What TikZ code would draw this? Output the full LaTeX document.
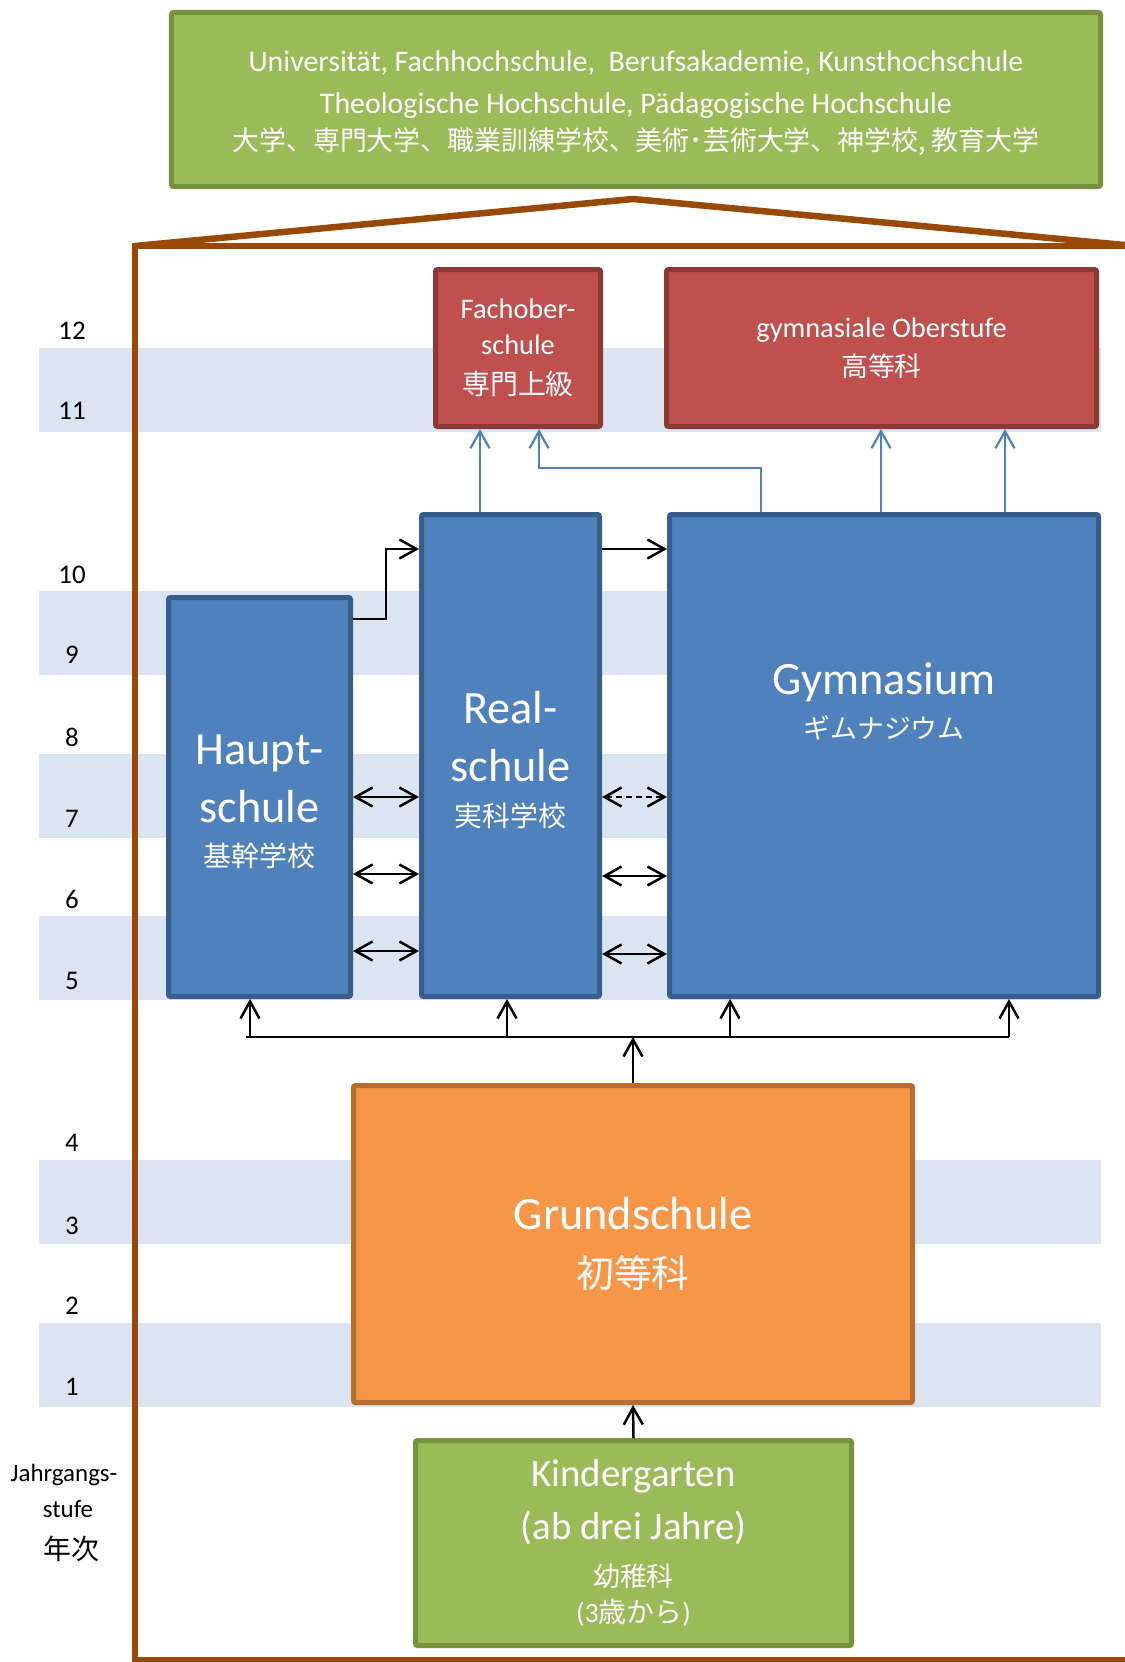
\documentclass[tikz,border=0pt]{standalone}
\usepackage{fontspec}
\setmainfont{Carlito}
\newfontfamily\cjk{Noto Sans CJK JP}
\usetikzlibrary{arrows.meta}
\definecolor{boxgreen}{HTML}{9BBB59}
\definecolor{greenline}{HTML}{76923C}
\definecolor{boxred}{HTML}{C0504D}
\definecolor{redline}{HTML}{8C3836}
\definecolor{boxblue}{HTML}{4F81BD}
\definecolor{blueline}{HTML}{385D8A}
\definecolor{boxorange}{HTML}{F79646}
\definecolor{orangeline}{HTML}{B66D31}
\definecolor{bandblue}{HTML}{DBE5F1}
\definecolor{framebrown}{HTML}{984807}
\begin{document}
\begin{tikzpicture}[x=1bp,y=-1bp]  %坐标按像素
\tikzset{school box/.style={draw=#1line,fill=box#1,line width=5bp,rounded corners=2bp,text=white,align=center,inner sep=0pt},
school text/.style={text=white,align=center,inner sep=0pt},
grade/.style={inner sep=0pt,font=\fontsize{27}{30}\selectfont},
barb/.tip={Straight Barb[length=17bp,width=19bp]},
arr/.style={-barb,line width=2.5bp},
darr/.style={barb-barb,line width=2.5bp},
barr/.style={-barb,line width=2.2bp,draw=boxblue},
frame/.style={draw=framebrown,line width=6.5bp}}
\useasboundingbox (0,0) rectangle (1124,1662);
\foreach \y in {348,591,754,916,1160,1323}
\fill[bandblue] (39,\y) rectangle (1101,\y+84);
\foreach \g/\y in {12/331,11/411,10/575,9/655,8/737,7/819,6/900,5/981,4/1143,3/1226,2/1306,1/1387}
\node[grade] (g\g) at (72,\y) {\g};
\node[align=center,inner sep=0pt,font=\fontsize{25}{36}\selectfont] (stufe) at (64,1513) {Jahrgangs-\\\hspace*{8bp}stufe\\[7bp]\hspace*{14bp}{\cjk\fontsize{28}{30}\selectfont 年次}};
\draw[frame] (1135,246) -- (135,246) -- (135,1660) -- (1135,1660);
\draw[frame] (135,246) -- (633,199) -- (1135,246);
\node[school box=green,minimum width=929bp,minimum height=174bp] (uni) at (636,99.5) {};
\node[school text,font=\fontsize{30}{42}\selectfont] (unitext) at (636,103)
{Universität, Fachhochschule,~~Berufsakademie, Kunsthochschule\\Theologische Hochschule, Pädagogische Hochschule\\[-5bp]{\cjk\fontsize{27}{30}\selectfont 大学、専門大学、職業訓練学校、美術･芸術大学、神学校, 教育大学}};
\node[school box=red,minimum width=165bp,minimum height=157bp,font=\fontsize{28.5}{36}\selectfont] (fos) at (518,348)
{Fachober-\\schule\\[4bp]{\cjk\fontsize{28}{30}\selectfont 専門上級}};
\node[school box=red,minimum width=430bp,minimum height=157bp,font=\fontsize{28.5}{39}\selectfont] (gos) at (881.5,348)
{gymnasiale Oberstufe\\{\cjk\fontsize{27}{30}\selectfont 高等科}};
\node[school box=blue,minimum width=182bp,minimum height=399bp] (haupt) at (259.5,797) {};
\node[school text,font=\fontsize{46.5}{58}\selectfont] (haupttext) at (259.5,802)
{Haupt-\\schule\\[-14bp]{\cjk\fontsize{28}{30}\selectfont 基幹学校}};
\node[school box=blue,minimum width=178bp,minimum height=482bp] (real) at (510.5,755.5) {};
\node[school text,font=\fontsize{46.5}{58}\selectfont] (realtext) at (510.5,760)
{Real-\\schule\\[-13bp]{\cjk\fontsize{28}{30}\selectfont 実科学校}};
\node[school box=blue,minimum width=429bp,minimum height=482bp] (gym) at (884,755.5) {};
\node[school text,font=\fontsize{46.5}{44}\selectfont] (gymtext) at (884,701)
{Gymnasium\\{\cjk\fontsize{27}{30}\selectfont ギムナジウム}};
\node[school box=orange,minimum width=559bp,minimum height=317bp,font=\fontsize{46.5}{58}\selectfont] (grund) at (633,1244)
{Grundschule\\{\cjk\fontsize{38}{40}\selectfont 初等科}};
\node[school box=green,minimum width=436bp,minimum height=205bp,font=\fontsize{39}{53}\selectfont] (kiga) at (633.5,1543)
{Kindergarten\\(ab drei Jahre)\\[-6bp]{\cjk\fontsize{27}{30}\selectfont 幼稚科}\\[-17bp]{\fontsize{28}{30}\selectfont(3{\cjk 歳から})}};
% Uebergaenge
\draw[arr] (kiga.north) -- (grund.south);
\coordinate (bus) at (633,1037);
\coordinate (busl) at (246,1037);
\coordinate (busr) at (1009,1037);
\draw[arr] (grund.north) -- (bus);
\draw[line width=2.5bp] (busl) -- (busr);
\foreach \x in {250,507,730,1009}
\draw[arr] (\x,1037) -- (\x,0 |- haupt.south);
\draw[arr] (haupt.east |- 0,619) -| (386,549) -- (real.west |- 0,549);
\draw[arr] (real.east |- 0,549) -- (gym.west |- 0,549);
\foreach \y in {797,874,951}
\draw[darr] (haupt.east |- 0,\y) -- (real.west |- 0,\y);
\draw[darr,dash pattern=on 6bp off 4bp] (real.east |- 0,797) -- (gym.west |- 0,797);
\foreach \y in {876,954}
\draw[darr] (real.east |- 0,\y) -- (gym.west |- 0,\y);
\draw[barr] (480,0 |- real.north) -- (480,0 |- fos.south);
\draw[barr] (761,0 |- gym.north) |- (539,468) -- (539,0 |- fos.south);
\foreach \x in {881,1005}
\draw[barr] (\x,0 |- gym.north) -- (\x,0 |- gos.south);
\end{tikzpicture}
\end{document}
